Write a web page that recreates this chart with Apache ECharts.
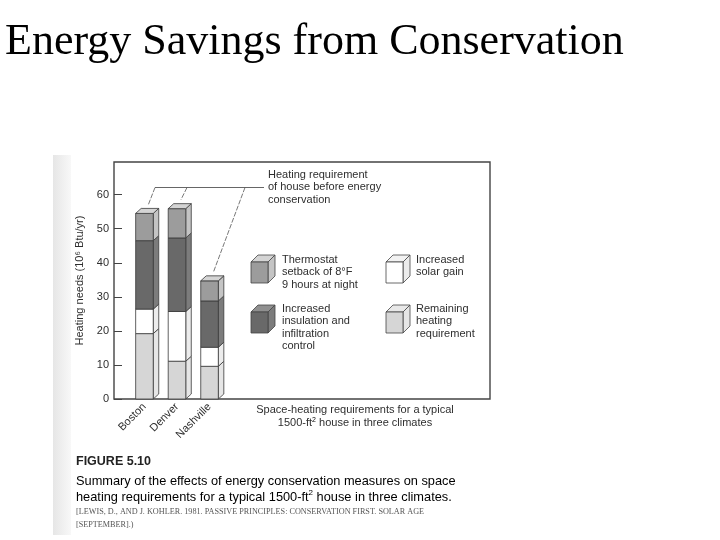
<!DOCTYPE html>
<html><head><meta charset="utf-8">
<script src="https://cdn.jsdelivr.net/npm/echarts@6/dist/echarts.min.js"></script>
<style>html,body{margin:0;padding:0;background:#fff}#c{width:720px;height:540px}</style>
</head><body><div id="c"></div>
<script>
// ---- data ----
var cities = ['Boston', 'Denver', 'Nashville'];
var remaining = [19.2, 11.1, 9.6];     // Remaining heating requirement
var solarGain = [7.2, 14.6, 5.6];      // Increased solar gain
var insulation = [20.1, 21.6, 13.6];   // Increased insulation and infiltration control
var thermostat = [8.0, 8.6, 5.9];      // Thermostat setback of 8°F 9 hours at night
var yTicks = [0, 10, 20, 30, 40, 50, 60];

var segs = [
  {name: 'Remaining heating requirement', vals: remaining, front: '#d6d6d6', side: '#e6e6e6', top: '#e8e8e8'},
  {name: 'Increased solar gain', vals: solarGain, front: '#ffffff', side: '#ececec', top: '#f2f2f2'},
  {name: 'Increased insulation and infiltration control', vals: insulation, front: '#696969', side: '#7c7c7c', top: '#909090'},
  {name: 'Thermostat setback of 8°F 9 hours at night', vals: thermostat, front: '#9c9c9c', side: '#c4c4c4', top: '#d4d4d4'}
];

var DX = 5.5, DY = 5, EDGE = '#3a3a3a';

function makeRender(seg) {
  return function (params, api) {
    var x = api.value(0), lo = api.value(1), hi = api.value(2), isTop = api.value(3);
    var p0 = api.coord([x, lo]), p1 = api.coord([x, hi]);
    var w = api.size([1, 0])[0] * 0.54;
    var xl = p0[0] - w / 2, xr = p0[0] + w / 2;
    var yb = p0[1], yt = p1[1];
    var st = {stroke: EDGE, lineWidth: 0.8};
    var ch = [
      {type: 'polygon', shape: {points: [[xr, yt], [xr + DX, yt - DY], [xr + DX, yb - DY], [xr, yb]]},
        style: Object.assign({fill: seg.side}, st)},
      {type: 'rect', shape: {x: xl, y: yt, width: w, height: yb - yt}, style: Object.assign({fill: seg.front}, st)}
    ];
    if (isTop) {
      ch.push({type: 'polygon', shape: {points: [[xl, yt], [xl + DX, yt - DY], [xr + DX, yt - DY], [xr, yt]]},
        style: Object.assign({fill: seg.top}, st)});
    }
    return {type: 'group', children: ch};
  };
}

var base = [0, 0, 0];
var series = segs.map(function (seg, si) {
  var data = cities.map(function (c, i) {
    var lo = base[i], hi = lo + seg.vals[i];
    base[i] = hi;
    return [i, lo, hi, si === segs.length - 1 ? 1 : 0];
  });
  return {type: 'custom', name: seg.name, renderItem: makeRender(seg), data: data,
    encode: {x: 0, y: [1, 2]}, clip: false, z: 2};
});
var totals = base.slice();

var chart = echarts.init(document.getElementById('c'), null, {renderer: 'canvas'});
var sans = 'Liberation Sans, Arial, sans-serif';
var txt = '#2e2e2e';

function cube(x, y, seg) {
  var w = 17, h = 21, d = 7;
  var st = {stroke: '#444', lineWidth: 0.8};
  return {type: 'group', children: [
    {type: 'polygon', shape: {points: [[x + w, y], [x + w + d, y - d], [x + w + d, y + h - d], [x + w, y + h]]}, style: Object.assign({fill: seg.side}, st)},
    {type: 'polygon', shape: {points: [[x, y], [x + d, y - d], [x + w + d, y - d], [x + w, y]]}, style: Object.assign({fill: seg.top}, st)},
    {type: 'rect', shape: {x: x, y: y, width: w, height: h}, style: Object.assign({fill: seg.front}, st)}
  ]};
}
function label(x, y, text, opt) {
  return {type: 'text', x: x, y: y, style: Object.assign({text: text, fill: txt, font: '11px ' + sans, lineHeight: 12.3, verticalAlign: 'top'}, opt || {})};
}

var option = {
  backgroundColor: '#ffffff',
  animation: false,
  title: {text: 'Energy Savings from Conservation', left: 0, top: 15,
    textStyle: {fontFamily: 'Liberation Serif, Times New Roman, serif', fontSize: 44, fontWeight: 'normal', color: '#000'}},
  grid: {left: 114, right: 230, top: 162, bottom: 141, show: true, borderColor: '#444', borderWidth: 1.4, backgroundColor: 'transparent', containLabel: false},
  xAxis: {type: 'value', min: -0.936, max: 10.62, axisLine: {show: false, onZero: false}, axisTick: {show: false}, splitLine: {show: false},
    axisLabel: {customValues: [0, 1, 2], formatter: function (v) { return cities[Math.round(v)]; }, rotate: 45, margin: 6,
      color: txt, fontFamily: sans, fontSize: 11}},
  yAxis: {type: 'value', min: 0, max: 69.6, splitLine: {show: false}, axisLine: {show: false, onZero: false},
    axisTick: {show: true, inside: true, length: 8, customValues: yTicks, lineStyle: {color: '#444', width: 1}},
    axisLabel: {customValues: yTicks, color: txt, fontFamily: sans, fontSize: 11, margin: 5},
    name: 'Heating needs (10\u2076 Btu/yr)', nameLocation: 'middle', nameGap: 27, nameRotate: 90,
    nameTextStyle: {color: txt, fontFamily: sans, fontSize: 11}},
  series: series,
  graphic: []
};
chart.setOption(option);

// annotations anchored to bar tops through the axes
var tops = totals.map(function (t, i) { return chart.convertToPixel({gridIndex: 0}, [i, t]); });
var lineY = 187.5;
var starts = [155, 187, 245];
var g = [];
g.push({type: 'rect', shape: {x: 53, y: 155, width: 18, height: 380}, style: {fill: new echarts.graphic.LinearGradient(0, 0, 1, 0, [{offset: 0, color: '#e6e6e6'}, {offset: 1, color: '#f8f8f8'}])}, z: -1});
g.push({type: 'line', shape: {x1: starts[0], y1: lineY, x2: 264, y2: lineY}, style: {stroke: '#555', lineWidth: 0.9}});
tops.forEach(function (p, i) {
  g.push({type: 'line', shape: {x1: starts[i], y1: lineY, x2: p[0] + 4, y2: p[1] - 9}, style: {stroke: '#555', lineWidth: 0.8, lineDash: [5, 1.5]}});
});
g.push(label(268, 169, 'Heating requirement\nof house before energy\nconservation'));
g.push(cube(251, 262, segs[3]));
g.push(label(282, 254, 'Thermostat\nsetback of 8°F\n9 hours at night'));
g.push(cube(251, 312, segs[2]));
g.push(label(282, 303, 'Increased\ninsulation and\ninfiltration\ncontrol'));
g.push(cube(386, 262, segs[1]));
g.push(label(416, 254, 'Increased\nsolar gain'));
g.push(cube(386, 312, segs[0]));
g.push(label(416, 303, 'Remaining\nheating\nrequirement'));
g.push({type: 'text', x: 355, y: 404, style: {text: 'Space-heating requirements for a typical', fill: txt, font: '11px ' + sans, align: 'center', verticalAlign: 'top'}});
g.push({type: 'text', x: 355, y: 417, style: {rich: {a: {fontSize: 11, fontFamily: sans, fill: txt, color: txt}, s: {fontSize: 7, fontFamily: sans, color: txt, verticalAlign: 'top', padding: [0, 0, 5, 0]}},
  text: '{a|1500-ft}{s|2}{a| house in three climates}', align: 'center', verticalAlign: 'top'}});
g.push({type: 'text', x: 76, y: 455, style: {text: 'FIGURE 5.10', fill: '#222', font: 'bold 12.5px ' + sans, verticalAlign: 'top'}});
g.push({type: 'text', x: 76, y: 473, style: {rich: {a: {fontSize: 12.8, fontFamily: sans, color: '#2a2a2a', lineHeight: 16}, s: {fontSize: 8, fontFamily: sans, color: '#2a2a2a', verticalAlign: 'top', lineHeight: 16, padding: [0, 0, 6, 0]}},
  text: '{a|Summary of the effects of energy conservation measures on space}\n{a|heating requirements for a typical 1500-ft}{s|2}{a| house in three climates.}', verticalAlign: 'top'}});
g.push({type: 'text', x: 76, y: 505, style: {text: '[LEWIS, D., AND J. KOHLER. 1981. PASSIVE PRINCIPLES: CONSERVATION FIRST. SOLAR AGE\n[SEPTEMBER].)', fill: '#555', font: '8.2px Liberation Serif, serif', lineHeight: 13, verticalAlign: 'top'}});
chart.setOption({graphic: g});
</script></body></html>
